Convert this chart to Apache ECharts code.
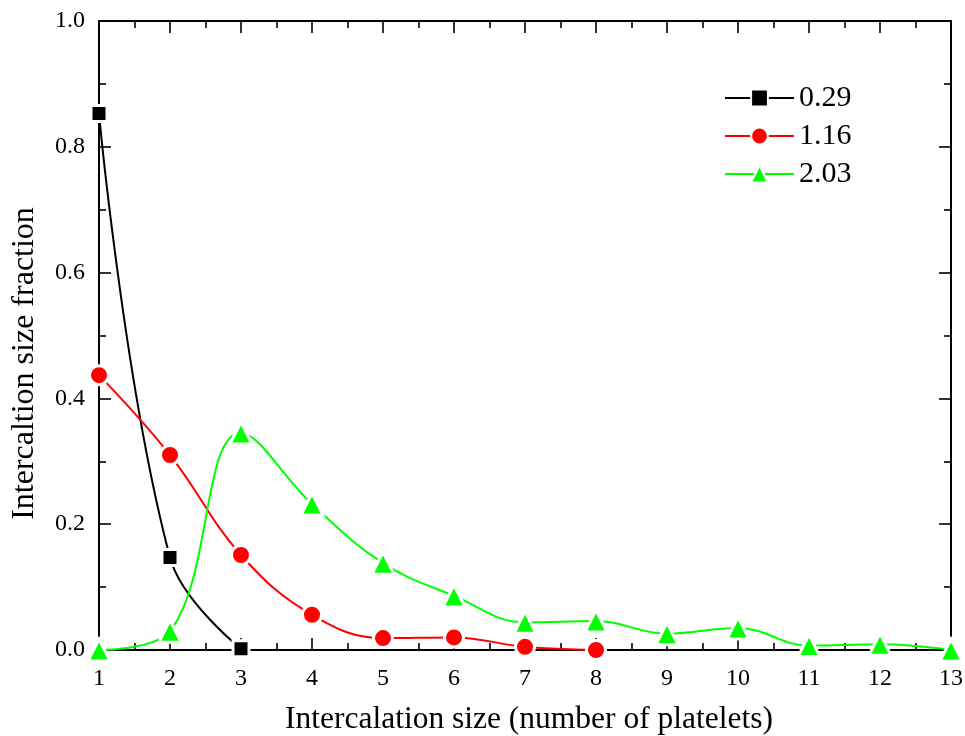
<!DOCTYPE html>
<html>
<head>
<meta charset="utf-8">
<script src="https://cdn.jsdelivr.net/npm/echarts@6/dist/echarts.min.js"></script>
<style>html,body{margin:0;padding:0;background:#fff;}#c{width:965px;height:736px;}</style>
</head>
<body>
<div id="c"></div>
<script>
const xValues = [1,2,3,4,5,6,7,8,9,10,11,12,13];
const seriesNames = ['0.29','1.16','2.03'];
const s029 = [0.853, 0.147, 0.002];
const s116 = [0.437, 0.310, 0.151, 0.056, 0.019, 0.020, 0.005, 0.000];
const s203 = [0.000, 0.030, 0.345, 0.232, 0.138, 0.086, 0.044, 0.046, 0.026, 0.035, 0.007, 0.009, 0.000];
const yTicks = [0, 0.2, 0.4, 0.6, 0.8, 1.0];

const font = 'Liberation Serif, Times New Roman, serif';
function pairs(arr){ return arr.map((v,i)=>[xValues[i], v]); }

const tickCommon = {
  axisLine:{show:true, onZero:false, lineStyle:{color:'#000', width:2}},
  axisTick:{show:true, inside:true, length:12, lineStyle:{color:'#000', width:1.6}},
  minorTick:{show:true, splitNumber:2, length:7, lineStyle:{color:'#000', width:1.6}},
  splitLine:{show:false}
};

const chart = echarts.init(document.getElementById('c'), null, {renderer:'canvas'});
const option = {
  backgroundColor:'#fff',
  animation:false,
  grid:{left:99, right:14, top:21, bottom:86, containLabel:false, outerBoundsMode:'none'},
  legend:{
    left:724, top:83, padding:0, orient:'vertical', itemWidth:69, itemHeight:21, itemGap:8,
    lineStyle:{width:2},
    textStyle:{fontFamily:font, fontSize:30, color:'#000', lineHeight:30},
    data:seriesNames
  },
  xAxis:[
    Object.assign({type:'value', min:1, max:13, interval:1, position:'bottom',
      name:'Intercalation size (number of platelets)', nameLocation:'middle', nameGap:54,
      nameTextStyle:{fontFamily:font, fontSize:31.5, color:'#000', padding:[0,0,0,8]},
      axisLabel:{fontFamily:font, fontSize:24, color:'#000', margin:17}}, tickCommon),
    Object.assign({type:'value', min:1, max:13, interval:1, position:'top',
      axisLabel:{show:false}}, tickCommon)
  ],
  yAxis:[
    Object.assign({type:'value', min:0, max:1, interval:0.2, position:'left',
      name:'Intercaltion size fraction', nameLocation:'middle', nameGap:58,
      nameTextStyle:{fontFamily:font, fontSize:32, color:'#000', padding:[0,56,0,0]},
      axisLabel:{fontFamily:font, fontSize:24, color:'#000', margin:14,
        formatter:v=>v.toFixed(1)}}, tickCommon),
    Object.assign({type:'value', min:0, max:1, interval:0.2, position:'right',
      axisLabel:{show:false}}, tickCommon)
  ],
  series:[
    {name:seriesNames[0], type:'line', data:pairs(s029), smooth:0.4, clip:true,
     symbol:'rect', symbolSize:16, color:'#000',
     lineStyle:{color:'#000', width:2},
     itemStyle:{color:'#000', borderColor:'#fff', borderWidth:3}},
    {name:seriesNames[1], type:'line', data:pairs(s116), smooth:0.4, clip:true,
     symbol:'circle', symbolSize:19, color:'#ff0000',
     lineStyle:{color:'#ff0000', width:2},
     itemStyle:{color:'#ff0000', borderColor:'#fff', borderWidth:3}},
    {name:seriesNames[2], type:'line', data:pairs(s203), smooth:0.4, clip:true,
     symbol:'triangle', symbolSize:22, color:'#00ff00',
     lineStyle:{color:'#00ff00', width:2},
     itemStyle:{color:'#00ff00', borderColor:'#fff', borderWidth:3}}
  ]
};
chart.setOption(option);
</script>
</body>
</html>
